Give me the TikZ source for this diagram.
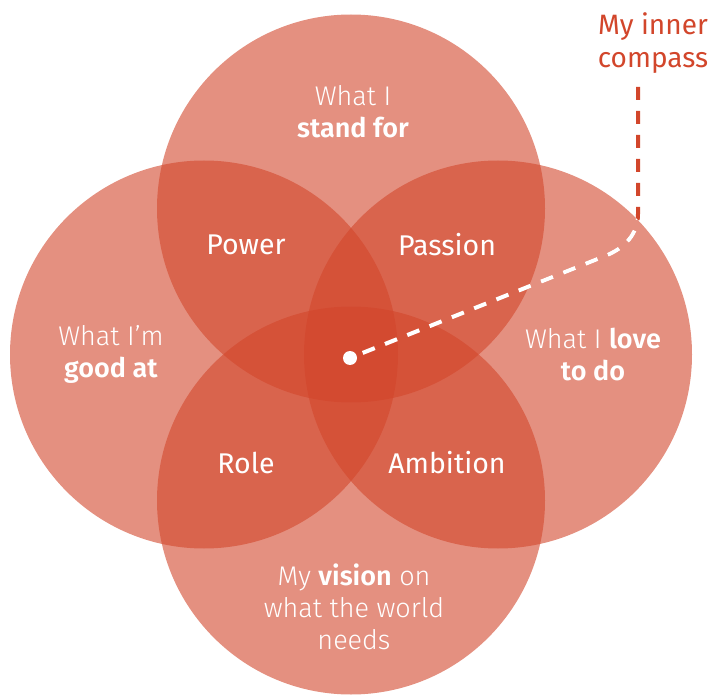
\documentclass[tikz,border=0pt]{standalone}
\usepackage{fontspec}
\setmainfont{Fira Sans}[UprightFont=* Light, BoldFont=* SemiBold]
\newfontfamily\labelfont{Fira Sans}
\definecolor{venn}{RGB}{210,70,43}

\tikzset{
  ring/.style={circle, fill=venn, fill opacity=0.6, draw=none,
               minimum size=388pt, inner sep=0pt},
  sphere/.style={text=white, align=center, inner sep=0pt,
                 font=\fontsize{27}{32}\selectfont},
  overlap/.style={text=white, inner sep=0pt,
                  font=\labelfont\fontsize{28.5}{32}\selectfont},
  callout/.style={text=venn, align=center, inner sep=0pt,
                  font=\labelfont\fontsize{28}{33}\selectfont},
  hubdot/.style={circle, fill=white, draw=none, minimum size=14pt, inner sep=0pt},
  guide/.style={line width=4pt, dash pattern=on 13pt off 11pt},
}

\begin{document}
\begin{tikzpicture}[x=1pt,y=-1pt]
  \useasboundingbox (0,0) rectangle (726,695);

  % the four value circles
  \node[ring] (top)    at (351,208.5) {};
  \node[ring] (left)   at (204,354.5) {};
  \node[ring] (right)  at (498,354.5) {};
  \node[ring] (bottom) at (351,500.5) {};

  % circle texts
  \node[sphere] (standfor) at (353,112) {What I\\\textbf{stand for}};
  \node[sphere] (goodat)   at (111,354) {What I’m\\\textbf{good at}};
  \node[sphere] (lovedo)   at (593,354) {What I \textbf{love}\\\textbf{to do}};
  \node[sphere] (vision)   at (354,607) {My \textbf{vision} on\\what the world\\needs};

  % overlap texts
  \node[overlap] (power)    at (246,245) {Power};
  \node[overlap] (passion)  at (447,245) {Passion};
  \node[overlap] (role)     at (246,463) {Role};
  \node[overlap] (ambition) at (447,463) {Ambition};

  % callout
  \node[callout] (compass) at (653,43) {My inner\\compass};

  % centre point
  \node[hubdot] (hub) at (350,358) {};

  % dashed guide from the callout down to the centre point:
  % red outside the right circle, white inside it
  \coordinate (tip)  at (638,87);
  \coordinate (rise) at (638,214);
  \coordinate (bend) at (605,256);
  \draw[guide, venn] (tip) -- (rise)
        .. controls (638,234) and (625,248) .. (bend) -- (hub);
  \begin{scope}
    \clip (right.center) circle[radius=194pt];
    \draw[guide, white] (tip) -- (rise)
          .. controls (638,234) and (625,248) .. (bend) -- (hub);
  \end{scope}
\end{tikzpicture}
\end{document}
